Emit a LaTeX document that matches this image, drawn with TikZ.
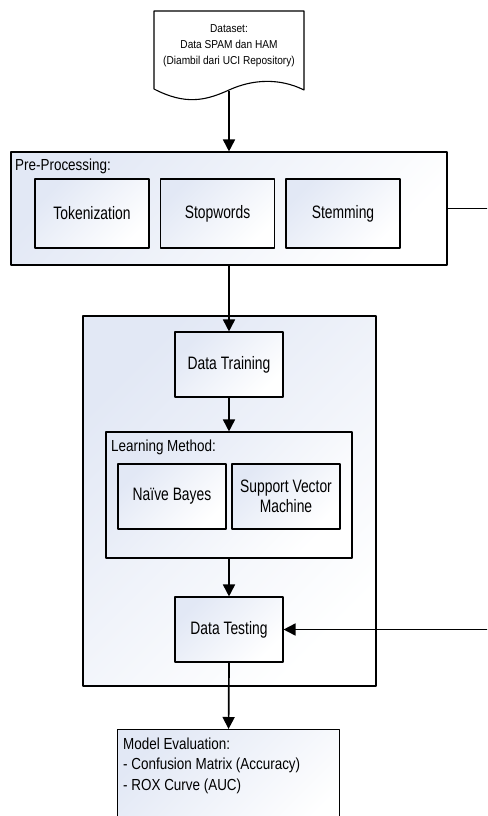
\documentclass[tikz,border=0pt]{standalone}
\usepackage{fontspec}
\setmainfont{Liberation Sans}[FakeStretch=0.88]
\newfontfamily\boxfont{Liberation Sans}[FakeStretch=0.77]
\newfontfamily\lblfont{Liberation Sans}[FakeStretch=0.84]
\usetikzlibrary{arrows.meta}
\definecolor{shadeblue}{RGB}{226,232,245}
\begin{document}
\begin{tikzpicture}[x=1pt, y=-1pt, line join=round,
        >={Triangle[width=12pt,length=12pt]},
        box/.style={draw, line width=1.1pt, top color=shadeblue,
            bottom color=white, shading angle=45, inner sep=0pt},
        inbox/.style={box, minimum width=114pt, minimum height=69pt,
            font=\boxfont\fontsize{18}{20}\selectfont},
        smallbox/.style={inbox, minimum width=108pt, minimum height=65pt,
            align=center},
        lbl/.style={inner sep=0pt, anchor=base west,
            font=\lblfont\fontsize{16}{20.5}\selectfont},
        arr/.style={->, line width=1.7pt}]
    \useasboundingbox (0,0) rectangle (487,816);
    \clip (0,0) rectangle (487,816);
    % dataset
    \draw[line width=1.1pt, fill=white] (154,11) -- (154,89)
        .. controls (185,105) and (205,101) .. (229,90)
        .. controls (253,79) and (280,78) .. (304,90) -- (304,11) -- cycle;
    \node[align=center, font=\fontsize{11.5}{16}\selectfont] (data) at (229,46)
        {Dataset:\\Data SPAM dan HAM\\(Diambil dari UCI Repository)};
    \coordinate (data-b) at (229,91);
    % pre-processing
    \node[box, minimum width=436pt, minimum height=113pt] (pre) at (229,208.5) {};
    \node[lbl] (prelbl) at (15,170) {Pre-Processing:};
    \node[inbox] (tok) at (92,213.5) {Tokenization};
    \node[inbox] (stop) at (217.5,213.5) {Stopwords};
    \node[inbox] (stem) at (343,213.5) {Stemming};
    % training and testing
    \node[box, minimum width=293pt, minimum height=370pt] (main) at (229.5,501) {};
    \node[smallbox] (train) at (229,364.5) {Data Training};
    \node[box, minimum width=246pt, minimum height=126pt] (learn) at (229,495) {};
    \node[lbl] (learnlbl) at (111,451) {Learning Method:};
    \node[smallbox] (nb) at (172,496.5) {Naïve Bayes};
    \node[smallbox] (svm) at (286,496.5) {Support Vector\\Machine};
    \node[smallbox] (test) at (229,629.5) {Data Testing};
    % evaluation
    \node[box, anchor=north west, minimum width=222pt, minimum height=110pt]
        (eval) at (117,729) {};
    \node[lbl, align=left] (evallbl) at (123,790)
        {Model Evaluation:\\- Confusion Matrix (Accuracy)\\- ROX Curve (AUC)};
    % connectors
    \draw[arr] (data-b) -- (pre.north);
    \draw[arr] (pre.south) -- (train.north);
    \draw[arr] (train.south) -- (learn.north);
    \draw[arr] (learn.south) -- (test.north);
    \draw[arr] (test.south) -- (eval.north);
    \draw[arr] (pre.east) -- ++(80,0) |- (test.east);
\end{tikzpicture}
\end{document}
